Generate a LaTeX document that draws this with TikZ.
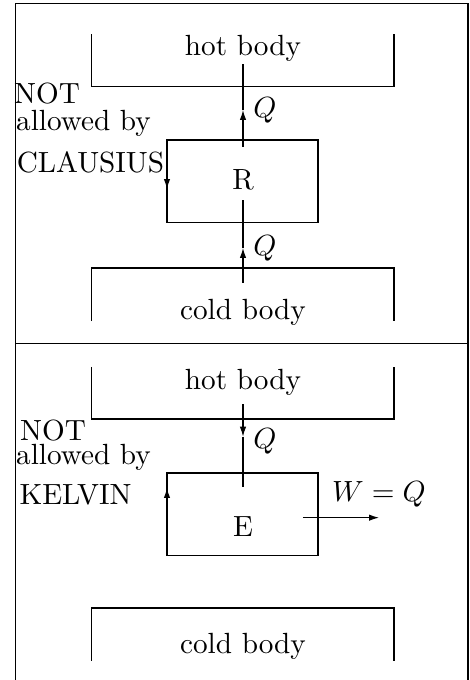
\documentclass[tikz,border=0pt]{standalone}
\usepackage{tikz}
\usetikzlibrary{arrows.meta}

\begin{document}
\begin{tikzpicture}[>={Latex[length=3.4pt,width=2.2pt]}, law/.style={inner sep=0pt}]
    \useasboundingbox (0,0) rectangle (5.657,8.185);
    % frame of the two panels
    \draw (0.187,0) -- (0.187,8.143) -- (5.633,8.143) -- (5.633,0);
    \draw (0.187,4.050) -- (5.633,4.050);

    % upper panel: refrigerator
    \draw (1.101,7.775) -- (1.101,7.144) -- (4.742,7.144) -- (4.742,7.775);
    \node (hotA) at (2.925,7.599) {hot body};
    \draw (1.101,4.321) -- (1.101,4.959) -- (4.742,4.959) -- (4.742,4.321);
    \node (coldA) at (2.925,4.421) {cold body};
    \draw (2.010,5.507) rectangle (3.828,6.500);
    \node (R) at (2.925,6.018) {R};
    \coordinate (qAtop) at (2.925,6.861);
    \coordinate (qAbot) at (2.925,5.200);
    \draw[->] (2.925,6.416) -- (qAtop) node[right] (QA1) {$Q$};
    \draw (qAtop) -- (2.925,7.415);
    \draw[->] (2.925,4.779) -- (qAbot) node[right] (QA2) {$Q$};
    \draw (qAbot) -- (2.925,5.778);
    \draw[->] (2.010,6.500) -- (2.010,5.910);
    \node[law] (notA) at (0.566,7.065) {NOT};
    \node[law] (allowA) at (1.005,6.696) {allowed by};
    \node[law] (clausius) at (1.089,6.235) {CLAUSIUS};

    % lower panel: engine
    \draw (1.101,3.768) -- (1.101,3.142) -- (4.742,3.142) -- (4.742,3.768);
    \node (hotB) at (2.925,3.587) {hot body};
    \draw (1.101,0.229) -- (1.101,0.867) -- (4.742,0.867) -- (4.742,0.229);
    \node (coldB) at (2.925,0.409) {cold body};
    \draw (2.010,1.501) rectangle (3.828,2.492);
    \node (E) at (2.925,1.846) {E};
    \coordinate (qB) at (2.925,2.929);
    \draw[->] (2.925,3.322) -- (qB);
    \node[right] (QB) at (2.925,2.877) {$Q$};
    \draw (qB) -- (2.925,2.323);
    \draw[->] (2.010,1.501) -- (2.010,2.311);
    \coordinate (wB) at (4.562,1.954);
    \draw[->] (3.647,1.954) -- (wB) node[above] (WQ) {$W = Q$};
    \node[law] (notB) at (0.638,3.000) {NOT};
    \node[law] (allowB) at (1.005,2.676) {allowed by};
    \node[law] (kelvin) at (0.909,2.227) {KELVIN};
\end{tikzpicture}
\end{document}
